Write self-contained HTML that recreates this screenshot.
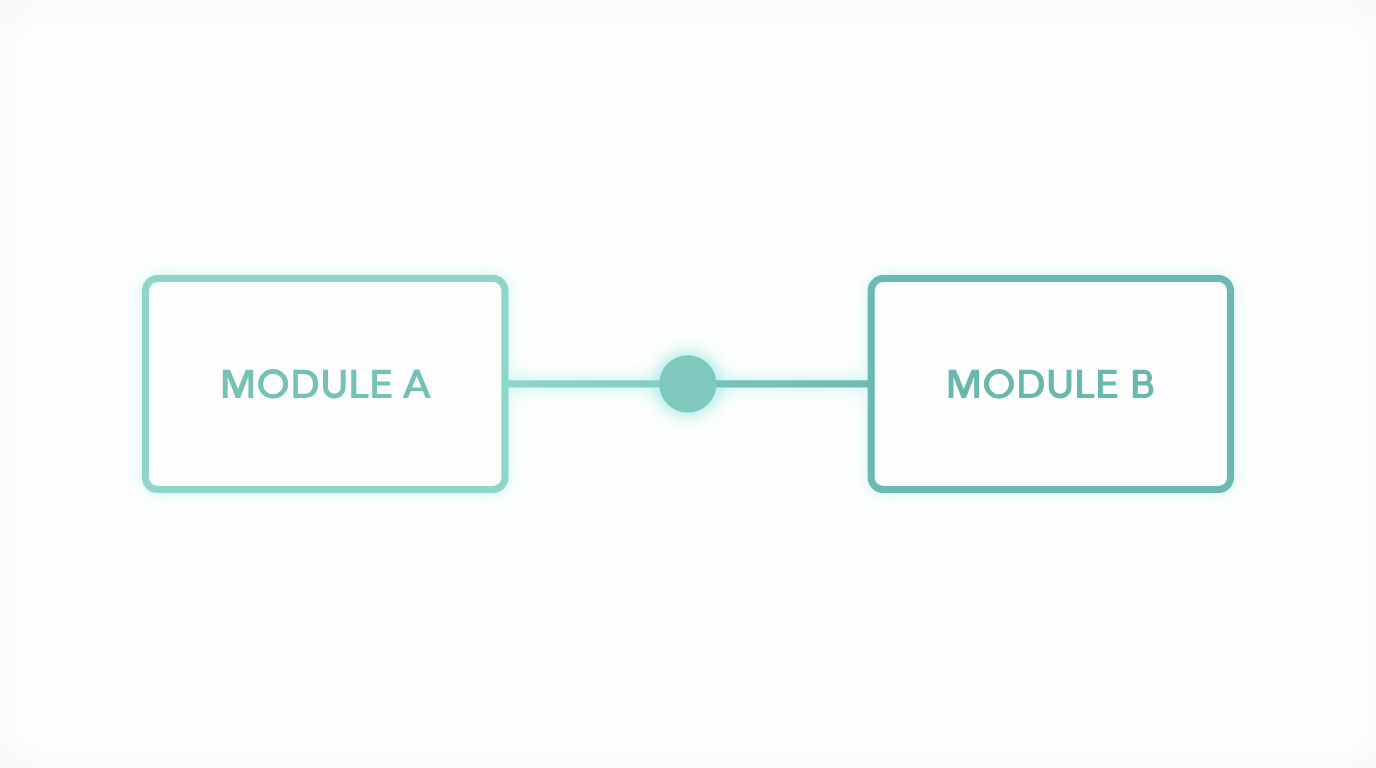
<!DOCTYPE html>
<html><head><meta charset="utf-8">
<style>
html,body{margin:0;padding:0;width:1376px;height:768px;overflow:hidden;background:#fefefe;font-family:"Liberation Sans",sans-serif;}
svg{display:block;position:absolute;left:0;top:0;}
</style></head>
<body>
<svg width="1376" height="768" viewBox="0 0 1376 768">
<defs>
<filter id="gbroad" filterUnits="userSpaceOnUse" x="0" y="0" width="1376" height="768">
<feGaussianBlur in="SourceAlpha" stdDeviation="9" result="b1"/>
<feFlood flood-color="#a8eee7" flood-opacity="0.95"/>
<feComposite in2="b1" operator="in"/>
</filter>
<filter id="gcirc" filterUnits="userSpaceOnUse" x="0" y="0" width="1376" height="768">
<feGaussianBlur in="SourceAlpha" stdDeviation="9" result="b3"/>
<feFlood flood-color="#9ce8e1" flood-opacity="1"/>
<feComposite in2="b3" operator="in"/>
</filter>
<filter id="ghalo" filterUnits="userSpaceOnUse" x="0" y="0" width="1376" height="768">
<feGaussianBlur in="SourceAlpha" stdDeviation="1.6" result="b2"/>
<feFlood flood-color="#cdfaf5" flood-opacity="0.95"/>
<feComposite in2="b2" operator="in"/>
</filter>
<radialGradient id="vig" cx="50%" cy="50%" r="72%">
<stop offset="75%" stop-color="#f0f0f0" stop-opacity="0"/>
<stop offset="100%" stop-color="#e6e6e6" stop-opacity="0.15"/>
</radialGradient>
</defs>
<rect x="0" y="0" width="1376" height="768" fill="#fefefe"/>
<defs>
<linearGradient id="et" x1="0" y1="0" x2="0" y2="1"><stop offset="0" stop-color="#e8e8e8" stop-opacity="0.18"/><stop offset="1" stop-color="#e8e8e8" stop-opacity="0"/></linearGradient>
<linearGradient id="eb" x1="0" y1="1" x2="0" y2="0"><stop offset="0" stop-color="#e8e8e8" stop-opacity="0.18"/><stop offset="1" stop-color="#e8e8e8" stop-opacity="0"/></linearGradient>
<linearGradient id="el" x1="0" y1="0" x2="1" y2="0"><stop offset="0" stop-color="#e8e8e8" stop-opacity="0.14"/><stop offset="1" stop-color="#e8e8e8" stop-opacity="0"/></linearGradient>
<linearGradient id="er" x1="1" y1="0" x2="0" y2="0"><stop offset="0" stop-color="#e8e8e8" stop-opacity="0.1"/><stop offset="1" stop-color="#e8e8e8" stop-opacity="0"/></linearGradient>
</defs>
<rect x="0" y="0" width="1376" height="40" fill="url(#et)"/>
<rect x="0" y="738" width="1376" height="30" fill="url(#eb)"/>
<rect x="0" y="0" width="40" height="768" fill="url(#el)"/>
<rect x="1346" y="0" width="30" height="768" fill="url(#er)"/>
<g filter="url(#gbroad)" opacity="0.6">
<rect x="145.5" y="278.6" width="359.5" height="211" rx="12" fill="none" stroke="#000" stroke-width="8"/>
<rect x="871.2" y="278.6" width="359.3" height="211" rx="12" fill="none" stroke="#000" stroke-width="8"/>
</g>
<g filter="url(#gbroad)">
<line x1="505" y1="383.8" x2="871" y2="383.8" stroke="#000" stroke-width="8"/>
</g>
<circle cx="687.8" cy="383.9" r="31" fill="#000" filter="url(#gcirc)"/>
<rect x="149" y="282.1" width="352.5" height="204" rx="8.5" fill="#fefefe"/>
<rect x="874.7" y="282.1" width="352.3" height="204" rx="8.5" fill="#fefefe"/>
<g filter="url(#ghalo)">
<rect x="145.5" y="278.6" width="359.5" height="211" rx="12" fill="none" stroke="#000" stroke-width="7"/>
<rect x="871.2" y="278.6" width="359.3" height="211" rx="12" fill="none" stroke="#000" stroke-width="7"/>
<line x1="505" y1="383.8" x2="871" y2="383.8" stroke="#000" stroke-width="7.2"/>
<circle cx="687.8" cy="383.9" r="28.7" fill="#000"/>
</g>
<defs>
<linearGradient id="lg1" gradientUnits="userSpaceOnUse" x1="505" y1="0" x2="688" y2="0">
<stop offset="0" stop-color="#90d5ca"/><stop offset="1" stop-color="#84ccc1"/>
</linearGradient>
<linearGradient id="lg2" gradientUnits="userSpaceOnUse" x1="688" y1="0" x2="871" y2="0">
<stop offset="0" stop-color="#78c3ba"/><stop offset="1" stop-color="#70bbb3"/>
</linearGradient>
</defs>
<line x1="505" y1="383.8" x2="688" y2="383.8" stroke="url(#lg1)" stroke-width="7.2"/>
<line x1="688" y1="383.8" x2="871" y2="383.8" stroke="url(#lg2)" stroke-width="7.2"/>
<rect x="145.5" y="278.6" width="359.5" height="211" rx="12" fill="none" stroke="#8fd5c9" stroke-width="7"/>
<rect x="871.2" y="278.6" width="359.3" height="211" rx="12" fill="none" stroke="#6cb9b1" stroke-width="7"/>
<circle cx="687.8" cy="383.9" r="28.7" fill="#7fc8be"/>
<g fill="#74c2b5" fill-rule="evenodd"><path d="M222.84,397.95 L222.84,369.85 L230.1,369.85 L237.95,388.9 L245.8,369.85 L253.2,369.85 L253.2,397.95 L248.4,397.95 L248.4,376.8 L240.15,397.95 L235.75,397.95 L227.68,376.8 L227.68,397.95Z"/><path d="M258.06,383.9 a15.07,14.8 0 1,0 30.14,0 a15.07,14.8 0 1,0 -30.14,0Z M263.03,383.9 a10.1,10.25 0 1,0 20.2,0 a10.1,10.25 0 1,0 -20.2,0Z"/><path d="M293.3,369.85 H304.4 C312.99,369.85 318.25,375.19 318.25,383.9 C318.25,392.61 312.99,397.95 304.4,397.95 H293.3 Z M297.9,373.95 V393.85 H304.4 C309.56,393.85 313,389.87 313,383.9 C313,377.93 309.56,373.95 304.4,373.95 Z"/><path d="M322.95,369.85 V387.3 A11.35,11.2 0 0 0 345.65,387.3 V369.85 H340.75 V387.7 A6.38,6.4 0 0 1 328,387.7 V369.85 Z"/><path d="M351.26,369.85 V397.95 H368.5 V393.9 H356.3 V369.85 Z"/><path d="M372.2,369.85 H390.8 V373.9 H377 V381.6 H390 V385.5 H377 V393.9 H391.5 V397.95 H372.2 V369.85 H372.2 Z"/><path d="M402.6,397.95 L414.3,369.85 L419.3,369.85 L408.0,397.95 Z"/><path d="M431.0,397.95 L419.3,369.85 L414.3,369.85 L425.6,397.95 Z"/><path d="M407.5,387.6 H426.1 V391.2 H407.5 Z"/></g>
<g fill="#69b8ae" fill-rule="evenodd"><path d="M948.64,397.95 L948.64,369.85 L955.9,369.85 L963.75,388.9 L971.6,369.85 L979,369.85 L979,397.95 L974.2,397.95 L974.2,376.8 L965.95,397.95 L961.55,397.95 L953.48,376.8 L953.48,397.95Z"/><path d="M983.86,383.9 a15.07,14.8 0 1,0 30.14,0 a15.07,14.8 0 1,0 -30.14,0Z M988.83,383.9 a10.1,10.25 0 1,0 20.2,0 a10.1,10.25 0 1,0 -20.2,0Z"/><path d="M1019.1,369.85 H1030.2 C1038.79,369.85 1044.05,375.19 1044.05,383.9 C1044.05,392.61 1038.79,397.95 1030.2,397.95 H1019.1 Z M1023.7,373.95 V393.85 H1030.2 C1035.36,393.85 1038.8,389.87 1038.8,383.9 C1038.8,377.93 1035.36,373.95 1030.2,373.95 Z"/><path d="M1048.75,369.85 V387.3 A11.35,11.2 0 0 0 1071.45,387.3 V369.85 H1066.55 V387.7 A6.38,6.4 0 0 1 1053.8,387.7 V369.85 Z"/><path d="M1077.06,369.85 V397.95 H1094.3 V393.9 H1082.1 V369.85 Z"/><path d="M1098,369.85 H1116.6 V373.9 H1102.8 V381.6 H1115.8 V385.5 H1102.8 V393.9 H1117.3 V397.95 H1098 V369.85 H1098 Z"/><path d="M1132.8,369.85 H1137.6 V397.95 H1132.8 Z"/><path d="M1135,369.85 H1144.4 A7.7,7.7 0 0 1 1144.4,385.3 H1135 Z M1137.6,373.95 V381.4 H1144.4 A2.9,3.72 0 0 0 1144.4,373.95 Z"/><path d="M1135,381.4 H1145.25 A8.3,8.27 0 0 1 1145.25,397.95 H1135 Z M1137.6,385.3 V393.9 H1145.25 A3.45,4.3 0 0 0 1145.25,385.3 Z"/></g>
</svg>
</body></html>
